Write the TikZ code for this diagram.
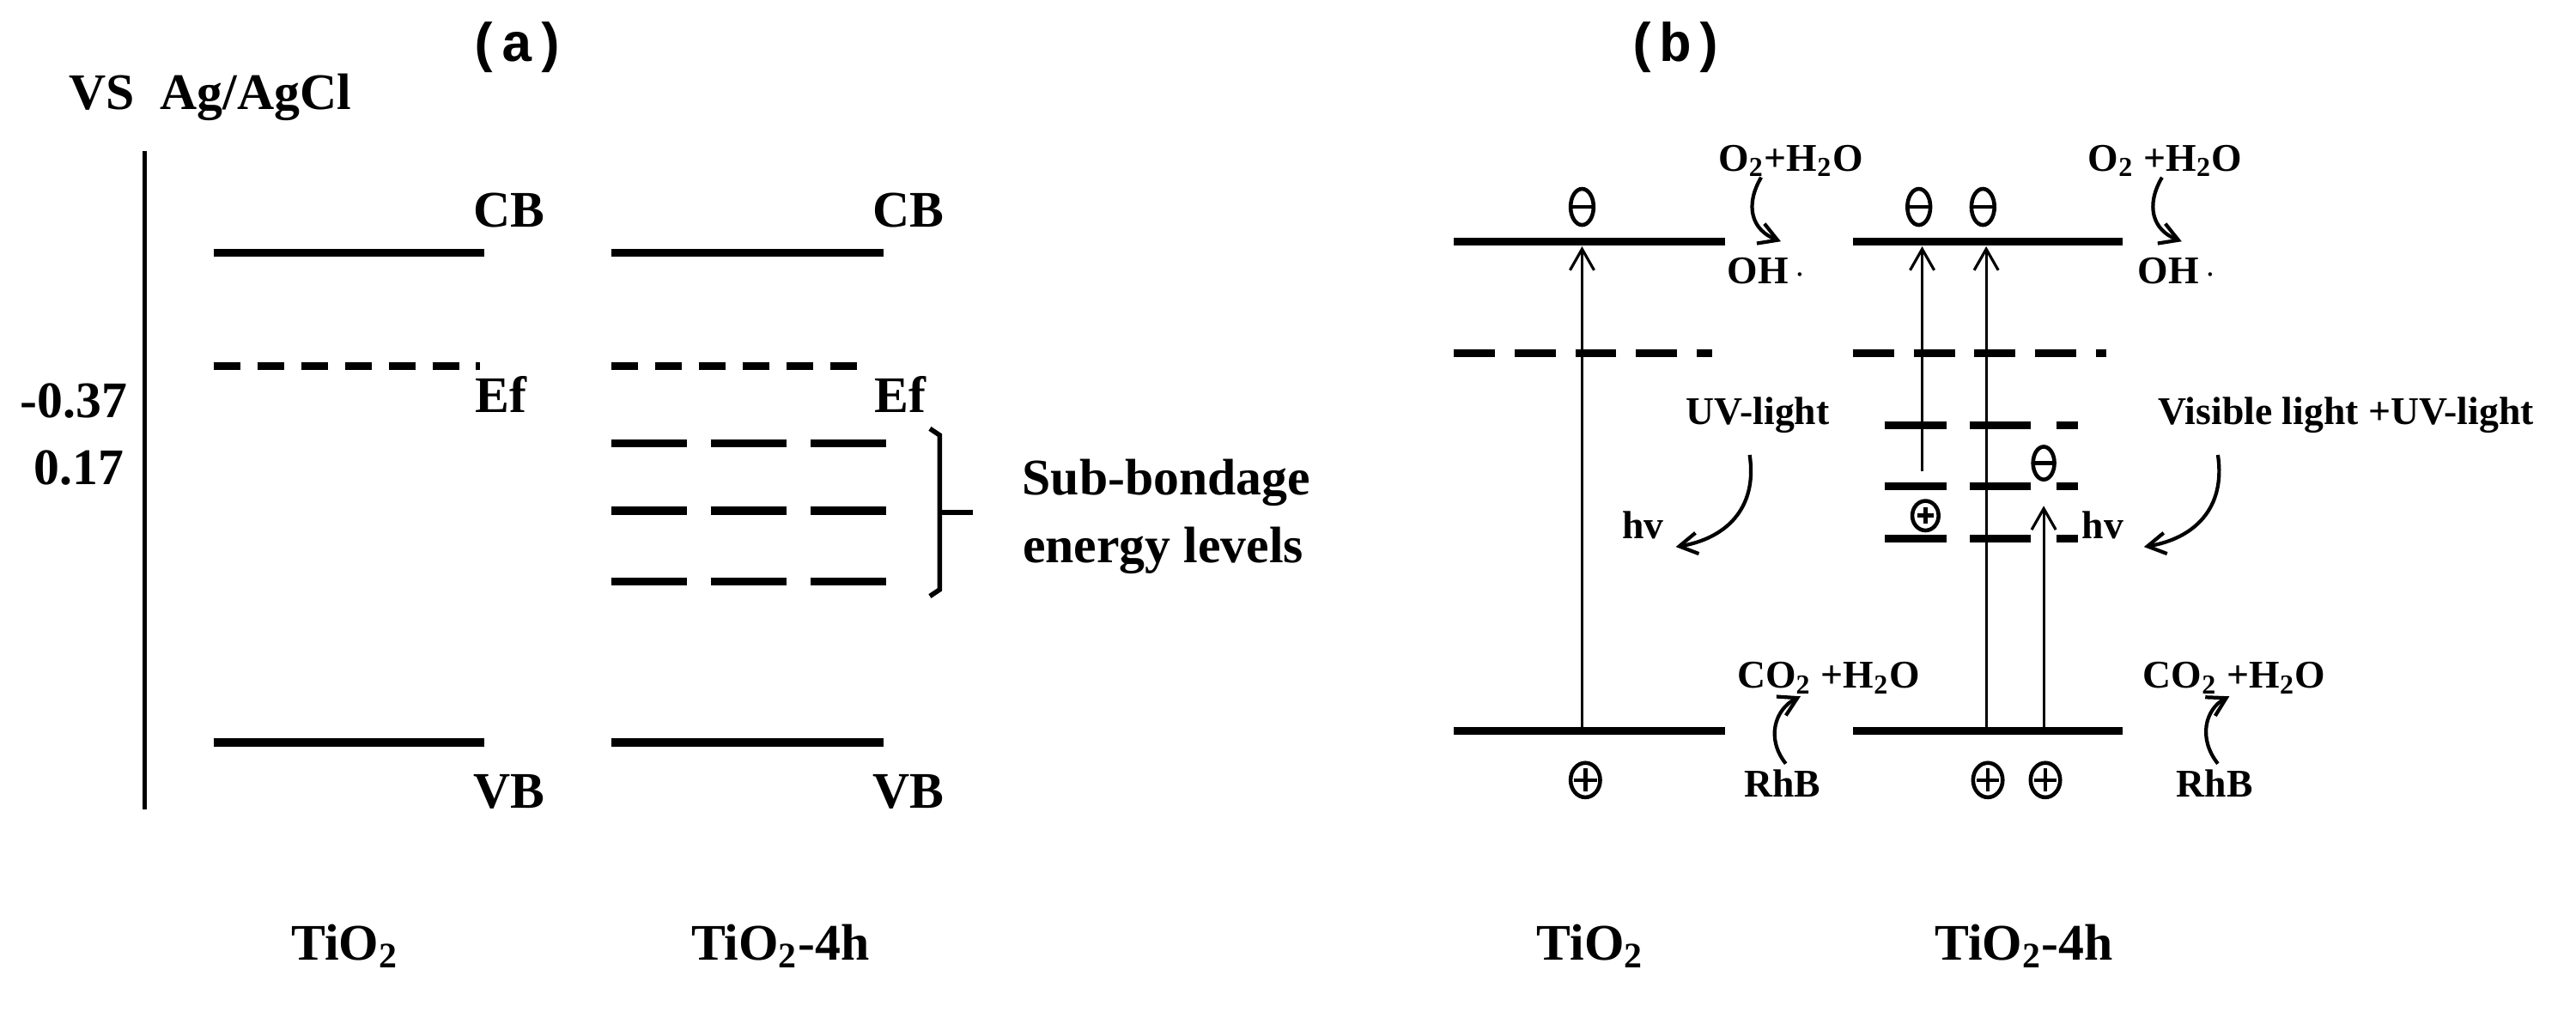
\documentclass[tikz,border=0pt]{standalone}
\usepackage{fontspec}
\setmainfont{Liberation Serif}
\newfontfamily\monof{Liberation Mono}
\usetikzlibrary{arrows.meta}
\newcommand{\sbs}[1]{\textsubscript{#1}}
\begin{document}
\begin{tikzpicture}[x=0.01913cm,y=-0.01913cm,
  lvl/.style={line width=2.7pt},
  efd/.style={line width=2.7pt,dash pattern=on 9pt off 5.5pt},
  subd/.style={line width=2.7pt,dash pattern=on 25pt off 8pt},
  bd/.style={line width=2.7pt,dash pattern=on 13.6pt off 6.5pt},
  big/.style={font=\bfseries\fontsize{17}{20}\selectfont,inner sep=0pt},
  sm/.style={font=\bfseries\fontsize{13}{15}\selectfont,inner sep=0pt},
  ttl/.style={font=\monof\bfseries\fontsize{18}{20}\selectfont,inner sep=0pt},
  up/.style={line width=0.9pt,-{Straight Barb[length=7pt,width=8pt]}},
  crv/.style={line width=1.2pt,-{Straight Barb[length=6pt,width=7pt]}},
  sym/.style={line width=1.3pt}]
\useasboundingbox (0,0) rectangle (1568,616);
% ---------- (a)
\node[ttl] (ta) at (315,29) {(a)};
\node[big] (vs) at (128,59) {VS\ \ Ag/AgCl};
\coordinate (ax1) at (88,92); \coordinate (ax2) at (88,493);
\draw[line width=1.6pt] (ax1) -- (ax2);
\node[big] (v1) at (45,244) {-0.37};
\node[big] (v2) at (48,285) {0.17};
\coordinate (c1a) at (130,154); \coordinate (c1b) at (295,154);
\draw[lvl] (c1a) -- (c1b);
\coordinate (e1a) at (130,223); \coordinate (e1b) at (292,223);
\draw[efd] (e1a) -- (e1b);
\coordinate (v1a) at (130,452); \coordinate (v1b) at (295,452);
\draw[lvl] (v1a) -- (v1b);
\node[big] (cb1) at (310,128) {CB};
\node[big] (ef1) at (305,240) {Ef};
\node[big] (vb1) at (310,482) {VB};
\coordinate (c2a) at (372,154); \coordinate (c2b) at (538,154);
\draw[lvl] (c2a) -- (c2b);
\coordinate (e2a) at (372,223); \coordinate (e2b) at (528,223);
\draw[efd] (e2a) -- (e2b);
\foreach \yy/\nm in {270/s1,311/s2,354/s3}{
  \coordinate (\nm a) at (372,\yy); \coordinate (\nm b) at (540,\yy);
  \draw[subd] (\nm a) -- (\nm b);}
\coordinate (v2a) at (372,452); \coordinate (v2b) at (538,452);
\draw[lvl] (v2a) -- (v2b);
\node[big] (cb2) at (553,128) {CB};
\node[big] (ef2) at (548,240) {Ef};
\node[big] (vb2) at (553,482) {VB};
\coordinate (br1) at (566,261); \coordinate (br2) at (572,265);
\coordinate (br3) at (572,359); \coordinate (br4) at (566,363);
\coordinate (bm) at (572,312); \coordinate (bt) at (592,312);
\draw[line width=1.6pt] (br1) -- (br2) -- (br3) -- (br4);
\draw[line width=1.6pt] (bm) -- (bt);
\node[big] (sb1) at (710,294) {Sub-bondage};
\node[big] (sb2) at (708,335) {energy levels};
\node[big] (la1) at (210,576) {TiO\sbs{2}};
\node[big] (la2) at (475,576) {TiO\sbs{2}-4h};
% ---------- (b)
\node[ttl] (tb) at (1020,29) {(b)};
% TiO2
\coordinate (bc1a) at (885,147); \coordinate (bc1b) at (1050,147);
\draw[lvl] (bc1a) -- (bc1b);
\coordinate (bd1a) at (885,215); \coordinate (bd1b) at (1042,215);
\draw[bd] (bd1a) -- (bd1b);
\coordinate (bv1a) at (885,445); \coordinate (bv1b) at (1050,445);
\draw[lvl] (bv1a) -- (bv1b);
\coordinate (ar1s) at (963,445); \coordinate (ar1e) at (963,150);
\draw[up] (ar1s) -- (ar1e);
\draw[sym] (963,126) ellipse (7 and 11);
\draw[sym] (956,126) -- (970,126);
\draw[sym] (965,475) ellipse (9 and 10.5);
\draw[sym] (958,475) -- (972,475) (965,468) -- (965,482);
\node[sm] (o1) at (1090,98) {O\sbs{2}+H\sbs{2}O};
\node[sm] (oh1) at (1075,165) {OH\,$\cdot$};
\coordinate (q1s) at (1072,108); \coordinate (q1e) at (1084,147);
\draw[crv] (q1s) .. controls (1062,125) and (1066,140) .. (q1e);
\node[sm] (uv) at (1070,253) {UV-light};
\coordinate (u1s) at (1065,277); \coordinate (u1e) at (1020,333);
\draw[crv] (u1s) .. controls (1070,310) and (1050,328) .. (u1e);
\node[sm] (hv1) at (1000,320) {hv};
\node[sm] (co1) at (1113,413) {CO\sbs{2} +H\sbs{2}O};
\node[sm] (rh1) at (1085,477) {RhB};
\coordinate (r1s) at (1087,465); \coordinate (r1e) at (1096,424);
\draw[crv] (r1s) .. controls (1075,450) and (1080,432) .. (r1e);
\node[big] (lb1) at (968,576) {TiO\sbs{2}};
% TiO2-4h
\coordinate (bc2a) at (1128,147); \coordinate (bc2b) at (1292,147);
\draw[lvl] (bc2a) -- (bc2b);
\coordinate (bd2a) at (1128,215); \coordinate (bd2b) at (1282,215);
\draw[bd] (bd2a) -- (bd2b);
\foreach \yy in {259,296,328}{
  \draw[lvl] (1147,\yy) -- (1185,\yy);
  \draw[lvl] (1199,\yy) -- (1236,\yy);
  \draw[lvl] (1252,\yy) -- (1265,\yy);}
\coordinate (bv2a) at (1128,445); \coordinate (bv2b) at (1292,445);
\draw[lvl] (bv2a) -- (bv2b);
\coordinate (ar2s) at (1170,287); \coordinate (ar2e) at (1170,150);
\draw[up] (ar2s) -- (ar2e);
\coordinate (ar3s) at (1209,445); \coordinate (ar3e) at (1209,150);
\draw[up] (ar3s) -- (ar3e);
\coordinate (ar4s) at (1244,445); \coordinate (ar4e) at (1244,308);
\draw[up] (ar4s) -- (ar4e);
\foreach \xx in {1168,1207}{
  \draw[sym] (\xx,126) ellipse (7 and 11);
  \draw[sym] (\xx-7,126) -- (\xx+7,126);}
\foreach \xx in {1210,1245}{
  \draw[sym] (\xx,475) ellipse (9 and 10.5);
  \draw[sym] (\xx-7,475) -- (\xx+7,475) (\xx,468) -- (\xx,482);}
\draw[sym] (1244,282) ellipse (6.5 and 10);
\draw[sym] (1238,282) -- (1250,282);
\draw[sym] (1172,314) ellipse (8 and 9);
\draw[sym] (1167,314) -- (1177,314) (1172,309) -- (1172,319);
\node[sm] (hv2) at (1280,320) {hv};
\node[sm] (o2) at (1318,98) {O\sbs{2} +H\sbs{2}O};
\node[sm] (oh2) at (1325,165) {OH\,$\cdot$};
\coordinate (q2s) at (1316,108); \coordinate (q2e) at (1328,147);
\draw[crv] (q2s) .. controls (1306,125) and (1310,140) .. (q2e);
\node[sm] (vis) at (1428,253) {Visible light +UV-light};
\coordinate (u2s) at (1350,277); \coordinate (u2e) at (1305,333);
\draw[crv] (u2s) .. controls (1355,310) and (1335,328) .. (u2e);
\node[sm] (co2) at (1360,413) {CO\sbs{2} +H\sbs{2}O};
\node[sm] (rh2) at (1348,477) {RhB};
\coordinate (r2s) at (1350,465); \coordinate (r2e) at (1357,424);
\draw[crv] (r2s) .. controls (1338,450) and (1342,432) .. (r2e);
\node[big] (lb2) at (1232,576) {TiO\sbs{2}-4h};
\end{tikzpicture}
\end{document}
